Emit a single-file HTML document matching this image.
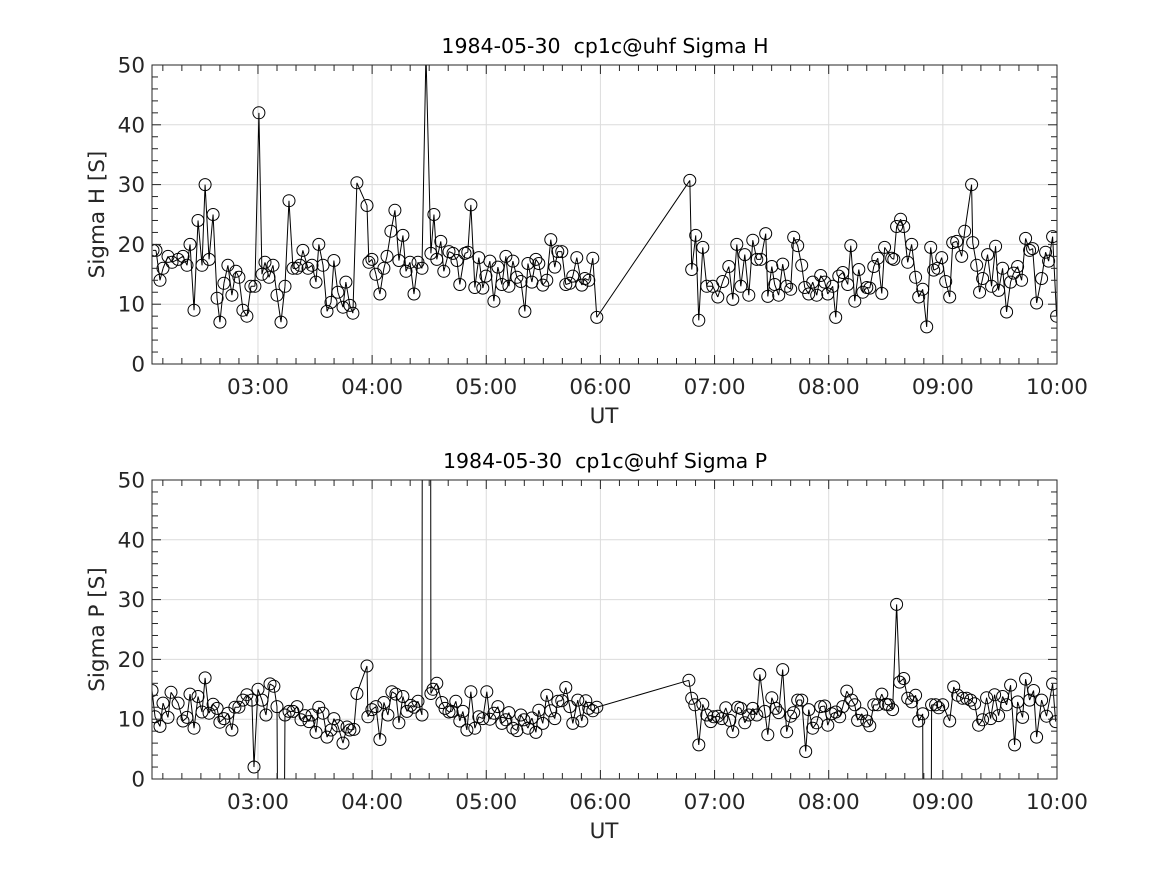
<!DOCTYPE html>
<html><head><meta charset="utf-8">
<style>
html,body{margin:0;padding:0;background:#fff;overflow:hidden;width:1167px;height:875px;}
svg{display:block;font-family:"DejaVu Sans","Liberation Sans",sans-serif;}
text{white-space:pre;}
</style></head>
<body>
<svg id="fig" width="1167" height="875" viewBox="0 0 1167 875" xmlns="http://www.w3.org/2000/svg">
<rect x="0" y="0" width="1167" height="875" fill="#fff"/>
</svg>
<script>
// time in minutes since 00:00 UT, values in S
const hTimes = [124.8,126.4,128.5,130.1,132.7,134.8,138,140.6,142.7,144.3,146.4,148.5,150.6,152.2,154.3,156.4,158.5,160,162.1,164.2,166.3,168.4,170,172.1,174.2,176.3,178.4,180.5,182.1,183.7,185.8,187.9,190,192.1,194.2,196.3,198.4,200.5,202.1,203.6,206.3,208.4,210.5,212,214.2,216.3,218.4,219.9,222,224.7,226.2,228.3,229.9,232,237.3,238.3,239.9,242,244.1,246.2,247.8,249.9,252,254.1,256.2,257.8,259.9,262,264.1,266.2,268.3,270.9,272.5,274,276.1,277.7,280.4,282.5,284.6,286.1,288.8,290.3,291.9,294,296.1,298.2,299.8,301.9,304,306.1,308.2,310.3,311.9,314,316.1,318.2,320.3,321.9,324,326.1,327.6,329.7,331.8,333.9,336,337.6,339.7,341.8,343.9,345.5,347.6,350.2,351.8,353.9,356,358.1,407,408,410.1,411.7,413.8,415.9,419.1,421.7,424.3,427.5,429.6,431.7,433.8,435.9,438,440.1,442.2,444.3,446.9,448,450.1,451.6,453.7,455.8,457.9,460,461.6,463.7,465.8,467.4,469.5,471.6,473.7,475.8,477.9,479.5,482.1,483.7,485.3,487.4,490,491.6,493.7,495.8,497.9,500,501.6,503.7,505.8,507.9,509.4,513.1,514.2,515.7,517.8,519.4,521.5,523.6,525.7,527.3,529.4,531.5,533.6,535.2,537.3,539.4,541.5,543.6,545.2,547.3,549.9,551.5,555.1,555.7,557.8,559.3,560.9,563.5,565.6,567.7,569.3,571.4,573.5,575.6,577.2,579.3,581.4,583.5,585.6,587.2,589.3,591.9,594,595.6,597.7,599.8];
const hValues = [19,19,14,16,18,17,17.5,18,16.5,20,9,24,16.5,30,17.5,25,11,7,13.5,16.5,11.5,15.5,14.5,9,8,13,13,42,15,17,14.5,16.5,11.5,7,13,27.3,16,16,16.5,19,16,16.5,13.7,20,16.5,8.8,10.3,17.3,12,9.5,13.7,9.8,8.5,30.3,26.5,17,17.5,15,11.7,16,18,22.2,25.7,17.3,21.5,15.5,17,11.7,17,16,52,18.5,25,17.5,20.5,15.5,18.8,18.5,17.3,13.3,18.5,18.7,26.6,12.8,17.8,12.7,14.7,17.2,10.5,16.2,13.3,18,13,17.2,14.5,13.8,8.8,16.8,13.7,17.5,16.8,13.2,14,20.8,16.2,18.8,18.8,13.3,13.5,14.7,17.8,13.2,14.3,14,17.7,7.8,30.7,15.8,21.5,7.3,19.5,13,13,11.2,13.8,16.3,10.8,20,13,18.3,11.5,20.7,17.5,17.5,21.8,11.3,16.3,13.3,11.5,16.7,13,12.5,21.2,19.8,16.5,12.8,11.7,13.7,11.5,14.8,13.7,11.7,13,7.8,14.7,15.3,13.3,19.8,10.5,15.8,12,12.8,12.7,16.3,17.7,11.8,19.5,17.7,17.5,23,24.2,23,17,20,14.5,11.2,12.5,6.2,19.5,15.7,16,17.8,13.8,11.2,20.3,20.5,18,22.2,30,20.3,16.5,12,14.3,18.3,13,19.7,12.3,16,8.7,13.7,15.2,16.3,14,21,19,19.3,10.2,14.3,18.7,17.2,21.3,8];
const pTimes = [124.3,125.9,128.5,130.1,132.7,134.3,138,140.6,142.7,144.3,146.4,148.5,150.6,152.2,154.3,156.4,158.5,160,162.1,164.2,166.3,167.9,170,172.1,174.2,176.8,177.9,180,182.1,184.2,186.3,188.4,190,192.1,194.2,196.3,198.4,200.5,202.6,204.7,206.8,208.4,210.5,212,214.2,216.3,218.4,219.9,222,224.7,226.8,228.3,230.4,232,237.3,237.8,239.9,242,244.1,246.2,248.3,250.4,252.5,254.1,256.2,258.3,260.4,262,264.1,266.2,268.8,270.9,272,274,276.7,278.3,280.4,281.9,284,286.1,287.7,289.8,291.9,294,296.1,298.2,300.3,301.9,304,306.1,308.2,310.3,311.9,314,316.1,318.2,319.8,321.9,324,326.1,327.6,329.7,331.8,333.9,336,337.6,339.7,341.8,343.9,345.5,348.1,350.2,352.3,353.9,356,358.1,406.5,408,409.6,411.7,413.8,415.9,418,419.6,421.7,423.8,425.9,428,429.6,432.2,433.8,435.9,438,440.1,442.2,443.8,446.4,448,450.1,452.2,453.7,455.8,457.9,460,461.6,463.7,465.8,467.9,469.5,471.6,473.7,475.8,477.9,479.5,481.6,483.7,485.8,487.4,489.5,492.1,493.7,495.2,497.3,500,501.6,503.7,505.8,507.9,510,511.5,513.6,515.7,517.3,519.4,521.5,523.6,525.7,527.3,529.4,531.5,534.1,536.2,537.8,539.9,543.6,545.7,547.8,550.4,552.5,554.6,556.7,558.8,560.9,563,565.1,567.2,569.3,571.4,573.5,575.6,577.7,579.3,581.9,583.5,585.6,587.7,589.3,591.9,594.5,597.7,599.3];
const pValues = [14.8,10.4,8.8,12.7,10.3,14.5,12.7,9.7,10.3,14.2,8.5,13.8,11.2,16.9,11,12.5,11.8,9.5,10.1,11,8.2,12,12,13.2,14.1,13.2,2,15,13.2,10.7,15.9,15.5,12.1,-100,10.7,11.3,11.3,12.1,9.9,10.6,9.6,10.7,7.8,12,11,7,8.2,10.1,8.9,6,8.7,8.2,8.3,14.3,18.9,10.4,11.6,12.1,6.6,12.8,10.7,14.6,14.2,9.4,13.8,11.3,12.3,12,13,10.7,800,14.3,15,16,12.8,11.8,11.2,11.3,13,9.7,11.3,8.2,14.6,8.5,10.4,10.1,14.6,10,11,12.1,9.3,9.9,11.1,8.5,8.1,10.7,9.9,8.5,10.2,7.8,11.5,9.3,14,11.4,10.1,13,13.1,15.3,12.1,9.3,13.2,9.7,13.1,11.8,11.4,12,16.5,13.5,12.4,5.7,12.5,10.7,9.6,10.4,10.5,10.1,11.9,9.8,7.9,12,11.8,9.4,10.7,11.8,10.7,17.5,11.3,7.4,13.6,11.8,11.1,18.3,7.9,10.5,11.1,13.2,13.2,4.6,11.6,8.5,9.4,12.1,12.2,9,10.9,11.2,10.4,12.1,14.7,13.2,12.4,9.8,10.9,9.7,8.9,12.4,12.4,14.2,12.5,12.4,11.6,29.2,16.2,16.8,13.5,12.9,14,9.7,10.9,-200,12.4,12.4,11.9,12.4,9.7,15.4,14,13.5,13.5,13.2,12.6,9,9.9,13.6,10.1,14.1,10.6,13.8,12.4,15.7,5.7,12.9,10.3,16.7,13.2,14.8,7,13.2,10.5,15.9,9.6];
const xTickMinutes = [180,240,300,360,420,480,540,600];
const xTickLabels = ["03:00","04:00","05:00","06:00","07:00","08:00","09:00","10:00"];
const yTicks = [0,10,20,30,40,50];

const NS = "http://www.w3.org/2000/svg";
const svg = document.getElementById("fig");
function mk(tag, attrs, parent){const e=document.createElementNS(NS,tag);for(const k in attrs)e.setAttribute(k,attrs[k]);(parent||svg).appendChild(e);return e;}

const X0=152, X1=1057, TMIN=124.3, TMAX=600;
function xs(t){return X0+(t-TMIN)/(TMAX-TMIN)*(X1-X0);}
const FS=21.5;

function panel(id, top, bottom, times, vals, title, ylabel){
  const g=mk("g",{});
  
  
  const ys=v=>bottom-(v/50)*(bottom-top);
  xTickMinutes.forEach(t=>{const x=xs(t);const l=mk("line",{x1:x,x2:x,y1:top,y2:bottom,stroke:"#dcdcdc","stroke-width":1},g);
    });
  yTicks.forEach(v=>{const y=ys(v);const l=mk("line",{x1:X0,x2:X1,y1:y,y2:y,stroke:"#dcdcdc","stroke-width":1},g);
    });
  const cid="clip-"+id;
  const cp=mk("clipPath",{id:cid},g);mk("rect",{x:X0,y:top,width:X1-X0,height:bottom-top},cp);
  const dg=mk("g",{"clip-path":"url(#"+cid+")"},g);
  // clip each segment in y to [top-1, bottom+1]
  const lo=top-1, hi=bottom+1;
  let d="";
  for(let i=0;i<times.length-1;i++){
    let xa=xs(times[i]),ya=ys(vals[i]),xb=xs(times[i+1]),yb=ys(vals[i+1]);
    if((ya<lo&&yb<lo)||(ya>hi&&yb>hi))continue;
    const cl=(x1,y1,x2,y2)=>{let y=y1<lo?lo:(y1>hi?hi:y1);if(y===y1)return [x1,y1];return [x1+(x2-x1)*(y-y1)/(y2-y1),y];};
    const A=cl(xa,ya,xb,yb),B=cl(xb,yb,xa,ya);
    d+="M"+A[0].toFixed(2)+","+A[1].toFixed(2)+"L"+B[0].toFixed(2)+","+B[1].toFixed(2);
  }
  const path=mk("path",{d:d,fill:"none",stroke:"#000","stroke-width":1},dg);
  
  
  times.forEach((t,i)=>{const y=ys(vals[i]);if(y<top-10||y>bottom+10)return;
    const c=mk("circle",{cx:xs(t).toFixed(1),cy:y.toFixed(1),r:6,fill:"none",stroke:"#000","stroke-width":1},dg);
    
    });
  mk("rect",{x:X0,y:top,width:X1-X0,height:bottom-top,fill:"none",stroke:"#262626","stroke-width":1},g);
  for(let m=130;m<=600;m+=10){const x=xs(m);const major=(m%60===0);const L=major?9:6;
    mk("line",{x1:x,x2:x,y1:bottom,y2:bottom-L,stroke:"#262626"},g);
    mk("line",{x1:x,x2:x,y1:top,y2:top+L,stroke:"#262626"},g);}
  for(let v=0;v<=50;v+=2){const y=ys(v);const L=(v%10===0)?9:6;
    mk("line",{x1:X0,x2:X0+L,y1:y,y2:y,stroke:"#262626"},g);
    mk("line",{x1:X1,x2:X1-L,y1:y,y2:y,stroke:"#262626"},g);}
  xTickLabels.forEach((s,i)=>{const t=mk("text",{x:xs(xTickMinutes[i]),y:bottom+30,"text-anchor":"middle","font-size":FS,fill:"#262626"},g);t.textContent=s;
    });
  yTicks.forEach(v=>{const t=mk("text",{x:X0-7,y:ys(v)+7.5,"text-anchor":"end","font-size":FS,fill:"#262626"},g);t.textContent=String(v);
    });
  const xl=mk("text",{x:604,y:bottom+59,"text-anchor":"middle","font-size":FS,fill:"#262626"},g);xl.textContent="UT";
  
  const yc=(top+bottom)/2;
  const yl=mk("text",{x:104,y:yc,"text-anchor":"middle","font-size":FS,fill:"#262626",transform:"rotate(-90 104 "+yc+")"},g);yl.textContent=ylabel;
  
  const tt=mk("text",{x:605,y:top-12,"text-anchor":"middle","font-size":20.5,fill:"#000","xml:space":"preserve"},g);tt.textContent=title;
  
}
panel("sigma-h",65,364,hTimes,hValues,"1984-05-30  cp1c@uhf Sigma H","Sigma H [S]");
panel("sigma-p",480,779,pTimes,pValues,"1984-05-30  cp1c@uhf Sigma P","Sigma P [S]");
</script>
</body></html>
